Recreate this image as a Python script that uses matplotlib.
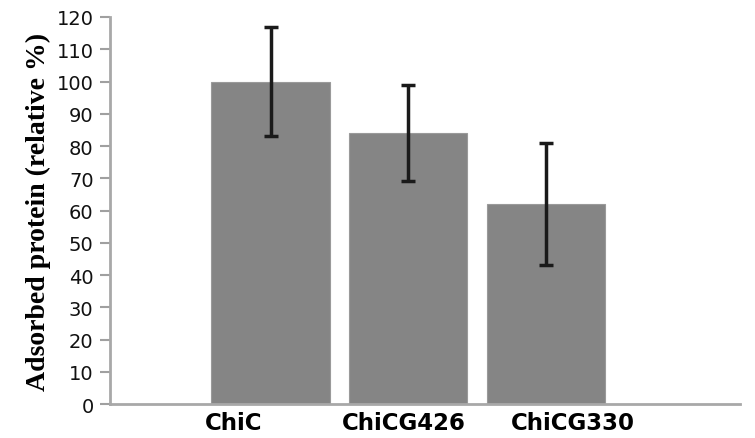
import matplotlib
matplotlib.use("Agg")
import matplotlib.pyplot as plt
import numpy as np

categories = ["ChiC", "ChiCG426", "ChiCG330"]
values = [100, 84, 62]
err_low = [17, 15, 19]
err_high = [17, 15, 19]

fig = plt.figure(figsize=(7.55, 4.39), dpi=100)
ax = fig.add_axes([0.146, 0.0774, 0.834, 0.8816])

x = np.arange(len(categories))
ax.bar(x, values, width=0.86, color="#858585", edgecolor="#9a9a9a", linewidth=0.8, zorder=2)
ax.errorbar(x, values, yerr=[err_low, err_high], fmt="none", ecolor="#1a1a1a",
            elinewidth=2.5, capsize=5, capthick=2.5, zorder=3)

ax.set_xlim(-1.165, 3.41)
ax.set_ylim(0, 120)
ax.set_yticks(np.arange(0, 121, 10))

# category labels (laid out slightly wider than the bars, as in the reference)
label_pos = x * 1.23 - 0.265
ax.set_xticks(label_pos)
ax.set_xticklabels(categories, fontsize=16.5, fontweight="bold", family="DejaVu Sans")
ax.tick_params(axis="x", length=0, pad=5)
ax.tick_params(axis="y", length=7, width=1.5, color="#a0a0a0", labelsize=14, pad=5,
               labelcolor="#111111")

for s in ["top", "right"]:
    ax.spines[s].set_visible(False)
for s in ["left", "bottom"]:
    ax.spines[s].set_color("#a8a8a8")
    ax.spines[s].set_linewidth(2)

ax.set_ylabel("Adsorbed protein (relative %)", fontsize=20, fontweight="bold",
              family="Liberation Serif", labelpad=4)

fig.savefig("out.png", dpi=100)
